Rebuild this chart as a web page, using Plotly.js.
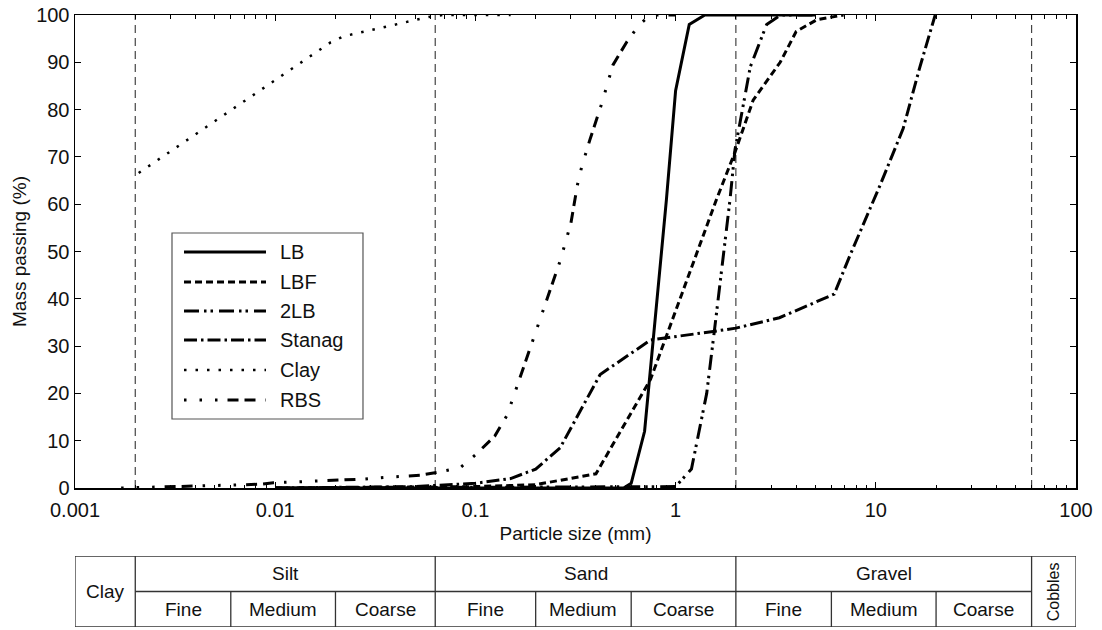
<!DOCTYPE html>
<html><head><meta charset="utf-8">
<script src="https://cdn.plot.ly/plotly-3.0.1.min.js"></script>
<style>html,body{margin:0;padding:0;background:#fff}</style>
</head><body><div id="chart" style="width:1102px;height:630px"></div>
<script>
// ---- data (particle size in mm, mass passing in %) ----
const seriesNames = ['LB', 'LBF', '2LB', 'Stanag', 'Clay', 'RBS'];
const lbX = [0.01, 0.55, 0.6, 0.7, 0.9, 1.0, 1.17, 1.4, 5];
const lbY = [0, 0, 1, 12, 61, 84, 98, 100, 100];
const lbfX = [0.01, 0.1, 0.2, 0.4, 0.75, 1.05, 1.6, 2.0, 2.44, 3.33, 4.0, 5.07, 6.9];
const lbfY = [0, 0.3, 0.7, 3, 23, 40, 61, 71.5, 82, 90, 96.5, 99, 100];
const lb2X = [0.01, 1.0, 1.2, 1.43, 1.57, 1.87, 1.98, 2.36, 2.85, 3.35, 5];
const lb2Y = [0, 0.3, 4, 20, 34, 61, 71.5, 89, 98, 100, 100];
const stanagX = [0.01, 0.05, 0.1, 0.15, 0.2, 0.265, 0.42, 0.75, 1.54, 2.0, 3.3, 6.2, 7.4, 10.5, 13.7, 16.6, 19.8];
const stanagY = [0, 0.3, 1, 2, 4, 8.5, 24, 31.3, 33.1, 33.8, 36, 41, 49, 64, 76, 89, 100];
const clayX = [0.00208, 0.0189, 0.022, 0.0586, 0.069, 0.15];
const clayY = [66.6, 94.2, 95.5, 99.6, 100, 100];
const rbsX = [0.0017, 0.0085, 0.0098, 0.028, 0.037, 0.053, 0.066, 0.084, 0.1, 0.125, 0.144, 0.2, 0.265, 0.3, 0.323, 0.34, 0.373, 0.43, 0.486, 0.57, 0.66, 0.75, 1.0];
const rbsY = [0, 0.8, 1.1, 1.9, 2.3, 2.7, 3.4, 4.3, 7, 11, 15.4, 33, 48, 56, 64, 68, 73.6, 81.6, 89.4, 94.3, 98, 100, 100];

const xTickVals = [0.001, 0.01, 0.1, 1, 10, 100];
const xTickText = ['0.001', '0.01', '0.1', '1', '10', '100'];
const yTickVals = [0, 10, 20, 30, 40, 50, 60, 70, 80, 90, 100];

// soil classification table
const mainBounds = [0.002, 0.063, 2, 60];          // dashed lines / main class limits
const subBounds = [0.006, 0.02, 0.2, 0.6, 6, 20];   // sub class limits
const groupNames = ['Silt', 'Sand', 'Gravel'];
const subNames = ['Fine', 'Medium', 'Coarse'];
const allBounds = [0.002, 0.006, 0.02, 0.063, 0.2, 0.6, 2, 6, 20, 60];
const xMin = 0.001, xMax = 100;

// minor log ticks 2..9 in each decade
const minorVals = [];
for (let d = 0; d < xTickVals.length - 1; d++) {
  for (let m = 2; m <= 9; m++) minorVals.push(m * xTickVals[d]);
}

// ---- styles ----
const styles = [
  {dash: 'solid', width: 3},
  {dash: '7px,4px', width: 3},
  {dash: '15px,5px,2.5px,4px,2.5px,6px', width: 3},
  {dash: '13px,4px,2.5px,4px', width: 3},
  {dash: '2.5px,9px', width: 2.5},
  {dash: '2.5px,13px,2.5px,13px,2.5px,10px,11px,6px,11px,10px', width: 3}
];
const xs = [lbX, lbfX, lb2X, stanagX, clayX, rbsX];
const ys = [lbY, lbfY, lb2Y, stanagY, clayY, rbsY];

const traces = seriesNames.map((n, i) => ({
  type: 'scatter', mode: 'lines', name: n, x: xs[i], y: ys[i],
  line: {color: '#000', width: styles[i].width, dash: styles[i].dash},
  xaxis: 'x', yaxis: 'y', showlegend: false, hoverinfo: 'skip'
}));

const FONT = 'Liberation Sans, Arial, sans-serif';
const shapes = [];
const annotations = [];

// dashed class boundary lines
mainBounds.forEach(b => shapes.push({
  type: 'line', xref: 'x', yref: 'y', x0: b, x1: b, y0: 0, y1: 100,
  line: {color: '#444', width: 1.2, dash: '8px,5px'}, layer: 'below'
}));

// table
const tc = '#333', tw = 1.3;
shapes.push({type: 'line', xref: 'x2', yref: 'y2', x0: xMin, x1: xMax, y0: 2, y1: 2, line: {color: tc, width: tw}});
shapes.push({type: 'line', xref: 'x2', yref: 'y2', x0: xMin, x1: xMax, y0: 0, y1: 0, line: {color: tc, width: tw}});
shapes.push({type: 'line', xref: 'x2', yref: 'y2', x0: mainBounds[0], x1: mainBounds[3], y0: 1, y1: 1, line: {color: tc, width: tw}});
[xMin].concat(mainBounds, [xMax]).forEach(b => shapes.push({
  type: 'line', xref: 'x2', yref: 'y2', x0: b, x1: b, y0: 0, y1: 2, line: {color: tc, width: tw}}));
subBounds.forEach(b => shapes.push({
  type: 'line', xref: 'x2', yref: 'y2', x0: b, x1: b, y0: 0, y1: 1, line: {color: tc, width: tw}}));

const lg = v => Math.log10(v);
const mid = (a, b) => (lg(a) + lg(b)) / 2;
const tfont = {family: FONT, size: 19, color: '#111'};
annotations.push({xref: 'x2', yref: 'y2', x: mid(xMin, mainBounds[0]), y: 1, text: 'Clay', showarrow: false, font: tfont});
annotations.push({xref: 'x2', yref: 'y2', x: mid(mainBounds[3], xMax), y: 1, text: 'Cobbles', textangle: -90, showarrow: false, font: {family: FONT, size: 16, color: '#111'}});
groupNames.forEach((g, i) => annotations.push({
  xref: 'x2', yref: 'y2', x: mid(mainBounds[i], mainBounds[i + 1]), y: 1.5, text: g, showarrow: false, font: tfont}));
for (let k = 0; k < 9; k++) {
  annotations.push({xref: 'x2', yref: 'y2', x: mid(allBounds[k], allBounds[k + 1]), y: 0.5,
    text: subNames[k % 3], showarrow: false, font: tfont});
}

// custom legend (paper coordinates)
const lgBox = {x0: 0.0969, x1: 0.2877, y0: 0.3399, y1: 0.6438};
shapes.push({type: 'rect', xref: 'paper', yref: 'paper', x0: lgBox.x0, x1: lgBox.x1, y0: lgBox.y0, y1: lgBox.y1,
  line: {color: '#555', width: 1.2}, fillcolor: '#fff', layer: 'above'});
const rowY = [0.6127, 0.5637, 0.5163, 0.4690, 0.4199, 0.3709];
seriesNames.forEach((n, i) => {
  shapes.push({type: 'line', xref: 'paper', yref: 'paper', x0: 0.1089, x1: 0.1908, y0: rowY[i], y1: rowY[i],
    line: {color: '#000', width: styles[i].width, dash: styles[i].dash}, layer: 'above'});
  annotations.push({xref: 'paper', yref: 'paper', x: 0.2028, y: rowY[i], xanchor: 'left', yanchor: 'middle',
    text: n, showarrow: false, font: {family: FONT, size: 20, color: '#111'}});
});

const layout = {
  width: 1102, height: 630,
  margin: {l: 75, r: 26, t: 15, b: 3, pad: 0},
  paper_bgcolor: '#fff', plot_bgcolor: '#fff',
  showlegend: false,
  font: {family: FONT, size: 19, color: '#111'},
  xaxis: {
    type: 'log', range: [lg(xMin), lg(xMax)], domain: [0, 1], anchor: 'y',
    tickmode: 'array', tickvals: xTickVals, ticktext: xTickText, ticks: 'inside', ticklen: 6, tickwidth: 1,
    tickcolor: '#000', showline: true, linecolor: '#000', linewidth: 1.5, mirror: 'ticks',
    showgrid: false, zeroline: false, ticklabelstandoff: 3,
    minor: {tickmode: 'array', tickvals: minorVals, ticks: 'inside', ticklen: 3.5, tickcolor: '#000', tickwidth: 1, showgrid: false},
    tickfont: {family: FONT, size: 20, color: '#111'},
    title: {text: 'Particle size (mm)', font: {family: FONT, size: 19, color: '#111'}, standoff: 7}
  },
  yaxis: {
    range: [0, 100], domain: [0.2271, 1], anchor: 'x',
    tickmode: 'array', tickvals: yTickVals, ticks: 'inside', ticklen: 6, tickwidth: 1, tickcolor: '#000',
    showline: true, linecolor: '#000', linewidth: 1.5, mirror: 'ticks',
    showgrid: false, zeroline: false,
    tickfont: {family: FONT, size: 20, color: '#111'},
    title: {text: 'Mass passing (%)', font: {family: FONT, size: 19, color: '#111'}, standoff: 4}
  },
  xaxis2: {type: 'log', range: [lg(xMin), lg(xMax)], domain: [0, 1], anchor: 'y2',
    showticklabels: false, ticks: '', showgrid: false, zeroline: false, showline: false},
  yaxis2: {range: [0, 2], domain: [0, 0.116], anchor: 'x2',
    showticklabels: false, ticks: '', showgrid: false, zeroline: false, showline: false},
  shapes: shapes,
  annotations: annotations
};

Plotly.newPlot('chart', traces, layout, {staticPlot: true, displayModeBar: false});
</script>
</body></html>
